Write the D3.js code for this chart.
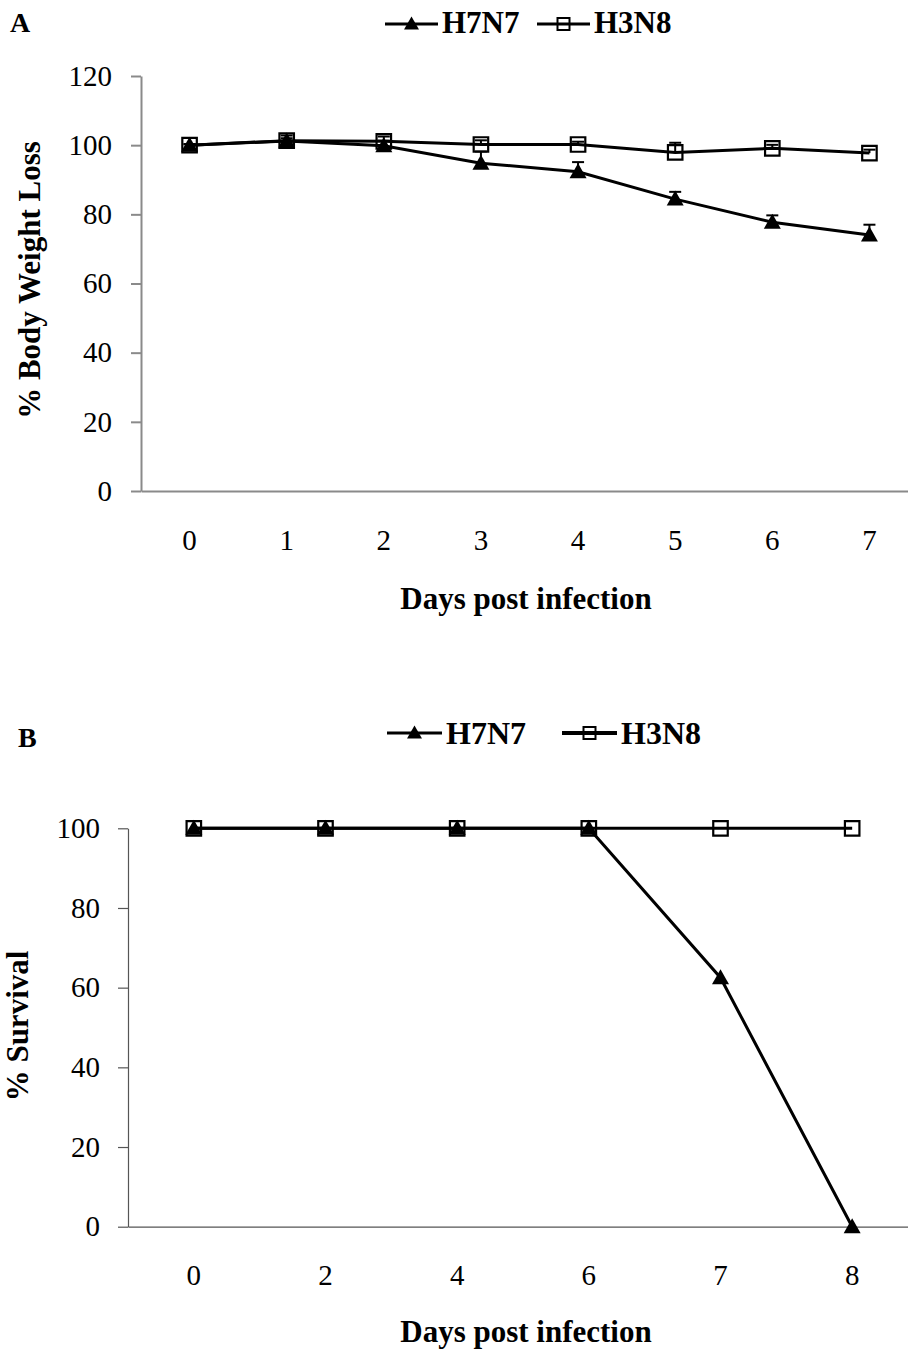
<!DOCTYPE html>
<html>
<head>
<meta charset="utf-8">
<script src="https://cdn.jsdelivr.net/npm/d3@7"></script>
<style>
  body { margin: 0; background: #fff; }
  svg text { font-family: "Liberation Serif", "Times New Roman", serif; }
</style>
</head>
<body>
<div id="chart"></div>
<script>
// panel A: body weight
var daysA = ["0", "1", "2", "3", "4", "5", "6", "7"];
var weightH7N7 = [100, 101.2, 99.8, 94.8, 92.3, 84.4, 77.7, 74.0];
var errH7N7 = [0.3, 0.8, 1.5, 3.4, 2.8, 2.1, 2.0, 3.0];
var weightH3N8 = [100, 101.3, 101.1, 100.2, 100.2, 97.9, 99.1, 97.7];
var errH3N8 = [0.3, 1.5, 1.4, 1.2, 0.8, 2.8, 1.0, 1.0];
var ticksA = [0, 20, 40, 60, 80, 100, 120];

// panel B: survival
var daysB = ["0", "2", "4", "6", "7", "8"];
var survH7N7 = [100, 100, 100, 100, 62.5, 0];
var survH3N8 = [100, 100, 100, 100, 100, 100];
var ticksB = [0, 20, 40, 60, 80, 100];

var seriesNames = ["H7N7", "H3N8"];

var W = 908, H = 1352;
var FONT = "'Liberation Serif', 'Times New Roman', serif";

var svg = d3.select("#chart")
    .append("svg")
    .attr("width", W)
    .attr("height", H);

// excel-like markers
function triPath(w, h) {
    return "M0," + (-h / 2) + "L" + (w / 2) + "," + (h / 2) + "L" + (-w / 2) + "," + (h / 2) + "Z";
}
function sqPath(s) {
    return "M" + (-s / 2) + "," + (-s / 2) + "h" + s + "v" + s + "h" + (-s) + "Z";
}

function drawPanel(opt) {
    var x = d3.scaleBand()
            .domain(opt.days)
            .range([opt.left, opt.right])
            .padding(0);
    var y = d3.scaleLinear()
            .domain([0, opt.ymax])
            .range([opt.bottom, opt.top]);
    var cx = function (i) { return x(opt.days[i]) + x.bandwidth() / 2; };

    var g = svg.append("g");

    // y axis
    var ya = g.append("g")
            .attr("transform", "translate(" + opt.left + ",0)")
            .call(d3.axisLeft(y)
                    .tickValues(opt.ticks)
                    .tickSize(10)
                    .tickSizeOuter(0)
                    .tickPadding(opt.ypad));
    ya.attr("font-family", null).attr("font-size", null);
    ya.selectAll("path, line")
            .style("stroke", opt.axisColor)
            .style("stroke-width", opt.axisWidth);
    ya.selectAll("text")
            .style("font-family", FONT)
            .style("font-size", "29px")
            .style("fill", "#000");

    // x axis
    var xa = g.append("g")
            .attr("transform", "translate(0," + opt.bottom + ")")
            .call(d3.axisBottom(x)
                    .tickSize(0)
                    .tickSizeOuter(0)
                    .tickPadding(opt.xpad));
    xa.attr("font-family", null).attr("font-size", null);
    xa.select("path")
            .style("stroke", opt.axisColor)
            .style("stroke-width", opt.axisWidth);
    xa.selectAll("text")
            .style("font-family", FONT)
            .style("font-size", "29px")
            .style("fill", "#000");

    // axis titles
    g.append("text")
            .attr("x", 526)
            .attr("y", opt.xTitleY)
            .attr("text-anchor", "middle")
            .style("font-size", "31px")
            .style("font-weight", "bold")
            .text("Days post infection");

    g.append("text")
            .attr("transform", "translate(" + opt.yTitleX + "," + opt.yTitleY + ") rotate(-90)")
            .attr("text-anchor", "middle")
            .style("font-size", "31px")
            .style("font-weight", "bold")
            .text(opt.yTitle);

    var line = d3.line()
            .x(function (d, i) { return cx(i); })
            .y(function (d) { return y(d); });

    // H3N8 series
    g.append("path")
            .datum(opt.s2)
            .attr("d", line)
            .style("fill", "none")
            .style("stroke", "#000")
            .style("stroke-width", opt.lineWidth);

    // H7N7 series
    g.append("path")
            .datum(opt.s1)
            .attr("d", line)
            .style("fill", "none")
            .style("stroke", "#000")
            .style("stroke-width", opt.lineWidth);

    g.append("g").selectAll("path")
            .data(opt.s2)
            .enter()
            .append("path")
            .attr("d", sqPath(14.5))
            .attr("transform", function (d, i) {
                return "translate(" + cx(i) + "," + y(d) + ")";
            })
            .style("fill", "none")
            .style("stroke", "#000")
            .style("stroke-width", 2.2);

    g.append("g").selectAll("path")
            .data(opt.s1)
            .enter()
            .append("path")
            .attr("d", triPath(17, 15))
            .attr("transform", function (d, i) {
                return "translate(" + cx(i) + "," + (y(d) - 1) + ")";
            })
            .style("fill", "#000");

    // error bars (plus side only)
    [[opt.s1, opt.e1], [opt.s2, opt.e2]].forEach(function (p) {
        if (!p[1]) return;
        var eb = g.append("g").selectAll("g")
                .data(p[0])
                .enter()
                .append("g");
        eb.append("line")
                .attr("x1", function (d, i) { return cx(i); })
                .attr("x2", function (d, i) { return cx(i); })
                .attr("y1", function (d) { return y(d); })
                .attr("y2", function (d, i) { return y(d + p[1][i]); });
        eb.append("line")
                .attr("x1", function (d, i) { return cx(i) - 6; })
                .attr("x2", function (d, i) { return cx(i) + 6; })
                .attr("y1", function (d, i) { return y(d + p[1][i]); })
                .attr("y2", function (d, i) { return y(d + p[1][i]); });
        eb.selectAll("line")
                .style("stroke", "#000")
                .style("stroke-width", 2);
    });

    // legend
    var lg = g.append("g");
    var items = [
        {name: seriesNames[0], x0: opt.leg[0], fill: "#000"},
        {name: seriesNames[1], x0: opt.leg[1], fill: "none"}
    ];
    items.forEach(function (it, k) {
        lg.append("line")
                .attr("x1", it.x0)
                .attr("x2", it.x0 + opt.legLine)
                .attr("y1", opt.legY)
                .attr("y2", opt.legY)
                .style("stroke", "#000")
                .style("stroke-width", k === 1 ? opt.legW2 : 3);
        lg.append("path")
                .attr("d", k === 0 ? triPath(15, 13) : sqPath(12))
                .attr("transform", "translate(" + (it.x0 + opt.legLine / 2) + "," + (opt.legY - (k === 0 ? 1 : 0)) + ")")
                .style("fill", it.fill)
                .style("stroke", k === 1 ? "#000" : "none")
                .style("stroke-width", 2);
        lg.append("text")
                .attr("x", it.x0 + opt.legLine + 4)
                .attr("y", opt.legTextY)
                .style("font-size", opt.legFont)
                .style("font-weight", "bold")
                .text(it.name);
    });

    g.append("text")
            .attr("x", opt.tagX)
            .attr("y", opt.tagY)
            .style("font-size", "28px")
            .style("font-weight", "bold")
            .text(opt.tag);
}

drawPanel({
    days: daysA, s1: weightH7N7, e1: errH7N7, s2: weightH3N8, e2: errH3N8,
    ticks: ticksA, ymax: 120,
    left: 141, right: 918, top: 76, bottom: 491,
    ypad: 19, xpad: 38,
    axisColor: "#8a8a8a", axisWidth: 2, lineWidth: 3,
    xTitleY: 609, yTitleX: 40, yTitleY: 280, yTitle: "% Body Weight Loss",
    leg: [385, 537], legLine: 53, legY: 24, legTextY: 33, legFont: "31px",
    legW2: 3,
    tag: "A", tagX: 10, tagY: 32
});

drawPanel({
    days: daysB, s1: survH7N7, e1: null, s2: survH3N8, e2: null,
    ticks: ticksB, ymax: 100,
    left: 128, right: 918, top: 828.3, bottom: 1226.7,
    ypad: 18, xpad: 38,
    axisColor: "#555", axisWidth: 1.2, lineWidth: 3,
    xTitleY: 1342, yTitleX: 28, yTitleY: 1026, yTitle: "% Survival",
    leg: [387, 562], legLine: 55, legY: 733, legTextY: 744, legFont: "32px",
    legW2: 4,
    tag: "B", tagX: 18, tagY: 747
});
</script>
</body>
</html>
